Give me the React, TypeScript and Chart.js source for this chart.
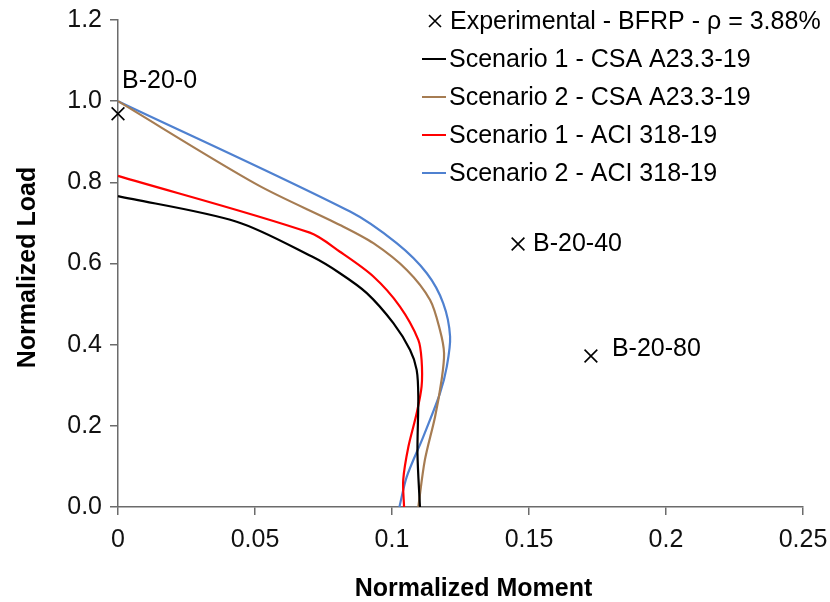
import React, { useEffect, useRef } from "react";
import { Chart, registerables } from "chart.js";

Chart.register(...registerables);

// ---- Data ----
const expLabel = "Experimental - BFRP - ρ = 3.88%";
const expNames = ["B-20-0", "B-20-40", "B-20-80"];
const expMoment = [0, 0.146, 0.1726];
const expLoad = [0.969, 0.648, 0.372];

const s1CsaLabel = "Scenario 1 - CSA A23.3-19";
const s1CsaX = [0, 0.0433, 0.0708, 0.081, 0.0908, 0.1005, 0.1066, 0.109, 0.1096, 0.1093, 0.1102];
const s1CsaY = [0.766, 0.703, 0.617, 0.576, 0.527, 0.453, 0.387, 0.338, 0.272, 0.132, 0.0];

const s2CsaLabel = "Scenario 2 - CSA A23.3-19";
const s2CsaX = [0, 0.0506, 0.081, 0.0932, 0.1054, 0.1139, 0.1175, 0.119, 0.1181, 0.1157, 0.112, 0.1096];
const s2CsaY = [1.0, 0.795, 0.695, 0.65, 0.584, 0.51, 0.436, 0.379, 0.313, 0.222, 0.116, 0.0];

const s1AciLabel = "Scenario 1 - ACI 318-19";
const s1AciX = [0, 0.07, 0.081, 0.0932, 0.1029, 0.1096, 0.1108, 0.1108, 0.109, 0.106, 0.1041, 0.1044];
const s1AciY = [0.816, 0.676, 0.629, 0.568, 0.494, 0.412, 0.362, 0.297, 0.231, 0.149, 0.067, 0.0];

const s2AciLabel = "Scenario 2 - ACI 318-19";
const s2AciX = [0, 0.0847, 0.1017, 0.1127, 0.1187, 0.1212, 0.12, 0.1175, 0.1114, 0.1054, 0.1027];
const s2AciY = [1.0, 0.728, 0.65, 0.576, 0.502, 0.42, 0.346, 0.28, 0.173, 0.075, 0.0];

const xTicks = [0, 0.05, 0.1, 0.15, 0.2, 0.25];
const yTicks = [0, 0.2, 0.4, 0.6, 0.8, 1.0, 1.2];
const xTitle = "Normalized Moment";
const yTitle = "Normalized Load";

// ---- Styles ----
const FONT = "'Liberation Sans', Arial, sans-serif";
const AXIS = "#6b6b6b";
const COLORS = {
  black: "#000000",
  brown: "#A67C52",
  red: "#FF0000",
  blue: "#4F81D0",
};

const zip = (xs: number[], ys: number[]) => xs.map((x, i) => ({ x, y: ys[i] }));

const overlayPlugin = {
  id: "overlay",
  afterDraw(chart: any) {
    const ctx = chart.ctx as CanvasRenderingContext2D;
    const xs = chart.scales.x;
    const ys = chart.scales.y;
    const area = chart.chartArea;
    ctx.save();
    ctx.fillStyle = "#000";
    ctx.textBaseline = "middle";
    // axis titles
    ctx.font = `bold 25px ${FONT}`;
    ctx.textAlign = "center";
    ctx.fillText(xTitle, (area.left + area.right) / 2 + 13, 589);
    ctx.save();
    ctx.translate(28, (area.top + area.bottom) / 2 + 4);
    ctx.rotate(-Math.PI / 2);
    ctx.fillText(yTitle, 0, 0);
    ctx.restore();

    ctx.font = `25px ${FONT}`;
    ctx.textAlign = "left";
    // point labels
    const offs = [
      [4, -33],
      [15, 0],
      [21, -7],
    ];
    expNames.forEach((n, i) => {
      const px = xs.getPixelForValue(expMoment[i]);
      const py = ys.getPixelForValue(expLoad[i]);
      ctx.fillText(n, px + offs[i][0], py + offs[i][1]);
    });
    // legend
    const lx = 422;
    const rows = [21, 59, 97, 135, 173];
    const ds = chart.data.datasets;
    ctx.strokeStyle = "#000";
    ctx.lineWidth = 1.6;
    const mx = 435, my = rows[0], r = 6;
    ctx.beginPath();
    ctx.moveTo(mx - r, my - r);
    ctx.lineTo(mx + r, my + r);
    ctx.moveTo(mx - r, my + r);
    ctx.lineTo(mx + r, my - r);
    ctx.stroke();
    ctx.fillText(ds[0].label, 450, my + 1);
    for (let i = 1; i < ds.length; i++) {
      const y = rows[i];
      ctx.strokeStyle = ds[i].borderColor;
      ctx.lineWidth = 2;
      ctx.beginPath();
      ctx.moveTo(lx, y);
      ctx.lineTo(lx + 24, y);
      ctx.stroke();
      ctx.fillText(ds[i].label, lx + 27, y + 1);
    }
    ctx.restore();
  },
};

export default function App() {
  const ref = useRef<HTMLCanvasElement>(null);
  useEffect(() => {
    if (!ref.current) return;
    const lineDs = (label: string, xs: number[], ys: number[], color: string) => ({
      label,
      data: zip(xs, ys),
      showLine: true,
      borderColor: color,
      backgroundColor: color,
      borderWidth: 2.2,
      pointRadius: 0,
      tension: 0.3,
      clip: false,
    });
    const chart = new Chart(ref.current, {
      type: "scatter",
      data: {
        datasets: [
          {
            label: expLabel,
            data: zip(expMoment, expLoad),
            showLine: false,
            pointStyle: "crossRot",
            pointRadius: 9,
            borderColor: "#000",
            backgroundColor: "#000",
            borderWidth: 1.6,
            clip: false,
          } as any,
          lineDs(s1CsaLabel, s1CsaX, s1CsaY, COLORS.black),
          lineDs(s2CsaLabel, s2CsaX, s2CsaY, COLORS.brown),
          lineDs(s1AciLabel, s1AciX, s1AciY, COLORS.red),
          lineDs(s2AciLabel, s2AciX, s2AciY, COLORS.blue),
        ],
      },
      options: {
        animation: false,
        responsive: false,
        layout: { padding: { top: 20, right: 27, left: 0, bottom: 0 } },
        plugins: { legend: { display: false }, tooltip: { enabled: false } },
        scales: {
          x: {
            type: "linear",
            min: 0,
            max: 0.25,
            afterBuildTicks: (s: any) => {
              s.ticks = xTicks.map((v) => ({ value: v }));
            },
            afterFit: (s: any) => {
              s.height = 95;
              s.paddingLeft = 0;
              s.paddingRight = 0;
            },
            ticks: {
              font: { family: FONT, size: 25 },
              color: "#111",
              padding: 10,
              maxRotation: 0,
              callback: (v: any) => String(Number(v)),
            },
            grid: { drawOnChartArea: false, drawTicks: true, tickLength: 8, color: AXIS, lineWidth: 1.5 },
            border: { display: true, color: AXIS, width: 1.5 },
            title: { display: false },
          },
          y: {
            type: "linear",
            min: 0,
            max: 1.2,
            afterBuildTicks: (s: any) => {
              s.ticks = yTicks.map((v) => ({ value: v }));
            },
            afterFit: (s: any) => {
              s.width = 118;
              s.paddingTop = 0;
              s.paddingBottom = 0;
            },
            ticks: {
              font: { family: FONT, size: 25 },
              color: "#111",
              padding: 8,
              callback: (v: any) => Number(v).toFixed(1),
            },
            grid: { drawOnChartArea: false, drawTicks: true, tickLength: 8, color: AXIS, lineWidth: 1.5 },
            border: { display: true, color: AXIS, width: 1.5 },
            title: { display: false },
          },
        },
      } as any,
      plugins: [overlayPlugin],
    });
    return () => chart.destroy();
  }, []);
  return (
    <div style={{ position: "fixed", left: 0, top: 0, width: 830, height: 602, background: "#fff" }}>
      <canvas ref={ref} width={830} height={602} style={{ display: "block" }} />
    </div>
  );
}
